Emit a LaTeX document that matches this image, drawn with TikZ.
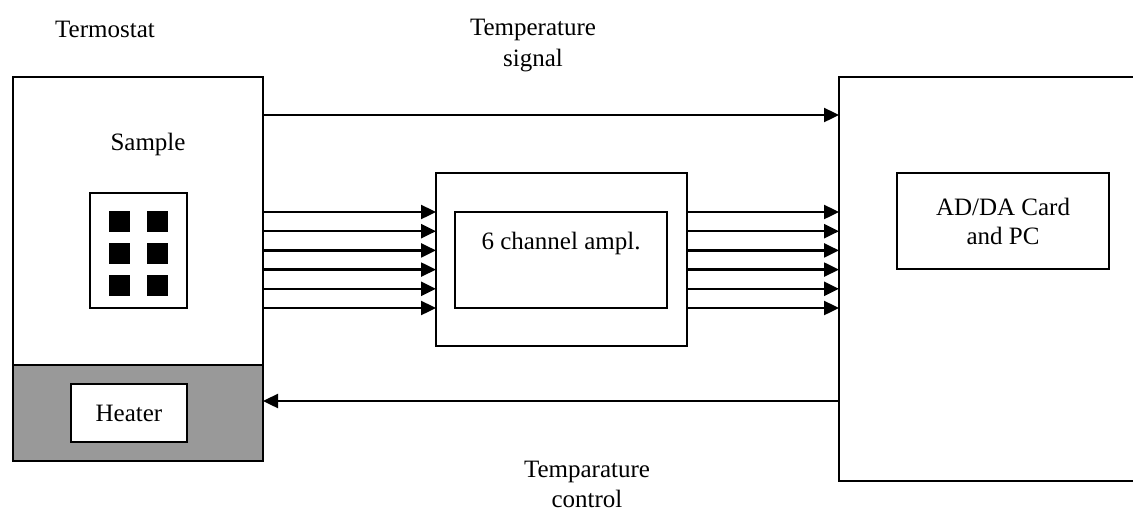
\documentclass[tikz,border=0pt]{standalone}
\usepackage{fontspec}
\setmainfont{Liberation Serif}
\usetikzlibrary{arrows.meta}
\definecolor{heatgray}{RGB}{153,153,153}
\begin{document}
\begin{tikzpicture}[x=1pt,y=-1pt,
  every node/.style={font=\fontsize{25}{30}\selectfont},
  box/.style={draw=black,line width=2.2pt,inner sep=0pt,outer sep=0pt,rectangle},
  txt/.style={inner sep=0pt,align=center},
  sq/.style={fill=black,inner sep=0pt,outer sep=0pt,minimum width=21pt,minimum height=21pt},
  arr/.style={line width=2.4pt,-{Triangle[length=15pt,width=14pt]}}]
\useasboundingbox (0,0) rectangle (1133,515);
\clip (0,0) rectangle (1133,515);
% thermostat
\node[box,minimum width=250pt,minimum height=384pt] (term) at (138,269) {};
\node[box,fill=heatgray,minimum width=250pt,minimum height=96pt] (heatzone) at (138,413) {};
\node[box,fill=white,minimum width=116pt,minimum height=58pt] (heater) at (129,413) {Heater};
\node[txt] (termlbl) at (105,29) {Termostat};
\node[txt] (samplelbl) at (148,144) {Sample};
\node[box,minimum width=97pt,minimum height=115pt] (sample) at (138.5,250.5) {};
\foreach \i/\x in {a/119,b/157.5}{
  \foreach \j/\y in {1/221.5,2/253,3/285.5}{
    \node[sq] (sq\i\j) at (\x,\y) {};
  }
}
% amplifier
\node[box,minimum width=251pt,minimum height=173pt] (ampl) at (561.5,259.5) {};
\node[box,minimum width=212pt,minimum height=96pt] (amplin) at (561,260) {};
\node[txt] (ampltxt) at (561,243) {6 channel ampl.};
% PC
\node[box,minimum width=301pt,minimum height=404pt] (pc) at (989.5,279) {};
\node[box,minimum width=212pt,minimum height=96pt,align=center,font=\fontsize{25}{31}\selectfont] (adda) at (1003,221) {AD/DA Card\\[-2pt]and PC};
% labels
\node[txt,font=\fontsize{25}{31}\selectfont] (siglbl) at (533,46) {Temperature\\signal};
\node[txt,font=\fontsize{25}{30}\selectfont] (ctllbl) at (587,484) {Temparature\\control};
% connectors
\draw[arr] (term.east |- 0,115) -- (pc.west |- 0,115);
\foreach \k in {0,...,5}{
  \pgfmathsetmacro{\yy}{212+19.2*\k}
  \draw[arr] (term.east |- 0,\yy) -- (ampl.west |- 0,\yy);
  \draw[arr] (ampl.east |- 0,\yy) -- (pc.west |- 0,\yy);
}
\draw[arr] (pc.west |- 0,401) -- (heatzone.east |- 0,401);
\end{tikzpicture}
\end{document}
